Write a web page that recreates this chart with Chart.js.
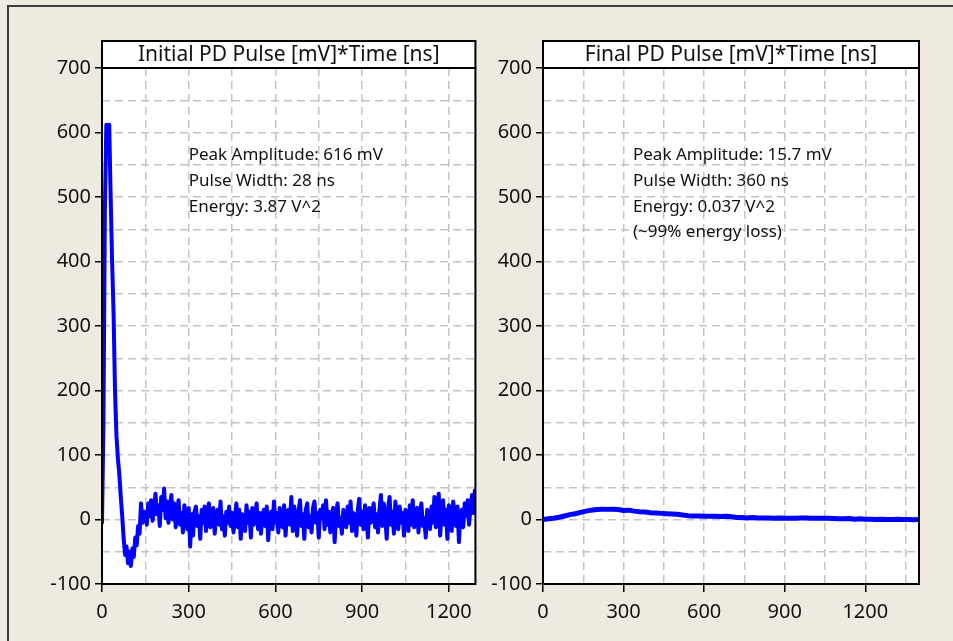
<!DOCTYPE html>
<html>
<head>
<meta charset="utf-8">
<script src="https://cdn.jsdelivr.net/npm/chart.js@4.4.1/dist/chart.umd.min.js"></script>
<style>
  html, body { margin: 0; padding: 0; background: #eeeae0; overflow: hidden; width: 953px; height: 641px; }
  #frame { position: absolute; left: 7px; top: 5px; right: 0; bottom: 0;
           border-top: 2px solid #3c3c3c; border-left: 2px solid #3c3c3c; }
  canvas { position: absolute; top: 0; }
  #initialChart { left: 0; }
  #finalChart { left: 480px; }
</style>
</head>
<body>
<div id="frame"></div>
<canvas id="initialChart" width="480" height="641"></canvas>
<canvas id="finalChart" width="473" height="641"></canvas>
<script>
// initial pulse, mV, sampled every 5 ns from t = 0
const initialStepNs = 5;
const initialPulseMv = [
  -5, 150, 480, 612, 608, 612, 500, 400, 320, 200, 130, 95, 70, 35, 5, -30, -55, -42, -68, -50,
  -72, -45, -58, -28, -40, -10, -22, 25, -5, 12,
  12, -8, 25, 5, 30, -2, 18, 40, 8, 22, -10, 35, 15, 48, 2, 28, -5, 20, 38, 0,
  25, -12, 15, 30, -8, 10, -20, 22, 5, -15, 18, -42, 8, -25, 12, 20, -10, 5, -30, 15,
  -5, 20, -18, 10, 25, -12, 2, 18, -22, 8, 15, -8, 28, -15, 5, -25, 12, -5, 20, -10,
  10, -20, 5, 25, -12, 15, -30, 8, 2, -18, 22, -5, 12, -28, 18, -8, 5, 25, -15, 10,
  -22, 8, 15, -10, 20, -32, 5, 12, -15, 28, -5, 10, -20, 18, 2, -12, 22, -25, 8, 15,
  -8, 35, -18, 20, 5, -25, 12, 30, -10, 8, -30, 15, 25, -12, 5, -20, 18, 28, -5, 10,
  -28, 15, 2, 22, -15, 30, -8, 12, -20, 5, 18, -35, 10, 25, -10, 2, -22, 15, 8, -12,
  20, -5, 28, -18, 10, 2, -25, 15, 32, -8, 12, -15, 22, 5, -28, 18, -5, 10, 25, -12,
  8, -20, 15, 38, -10, 25, 5, -30, 18, 35, -8, 12, -22, 28, 2, -15, 20, -5, 10, -25,
  15, 5, -18, 22, -8, 30, -12, 8, 18, -20, 12, 25, -10, 2, -28, 15, 8, -15, 20, -5,
  35, -12, 18, 40, -25, 10, 30, -8, 15, -30, 22, 5, -18, 28, 12, -10, 20, -35, 8, 15,
  -12, 25, 5, 30, -8, 18, 38, 10, 45
];

// final pulse, mV, sampled every 20 ns from t = 0
const finalStepNs = 20;
const finalPulseMv = [
  0, 1, 2, 3.5, 5.5, 7.5, 9, 11, 13, 14.5, 15.5, 16, 15.7, 16, 15.5, 14, 14.5, 13, 12, 11.5,
  10.5, 10, 9.5, 9, 8.5, 8, 7, 6, 5.5, 5.5, 5, 5, 5, 4.5, 5, 4.5, 3, 3, 2.5, 3,
  2.5, 2.5, 2.5, 2, 2.5, 2, 2, 2, 2.5, 2.5, 2, 2, 2, 2, 1.5, 1, 1, 1.5, 0.5, 1,
  0.5, 0.5, 0, 0.5, 0, 0, 0.5, 0, 0, -0.5, 0
];

const titles = ['Initial PD Pulse [mV]*Time [ns]', 'Final PD Pulse [mV]*Time [ns]'];
const initialNotes = ['Peak Amplitude: 616 mV', 'Pulse Width: 28 ns', 'Energy: 3.87 V^2'];
const finalNotes = ['Peak Amplitude: 15.7 mV', 'Pulse Width: 360 ns', 'Energy: 0.037 V^2', '(~99% energy loss)'];

const yGridMv = [-100, -50, 0, 50, 100, 150, 200, 250, 300, 350, 400, 450, 500, 550, 600, 650, 700];
const initialGridNs = [0, 150, 300, 450, 600, 750, 900, 1050, 1200];
const finalGridNs = [0, 150, 300, 450, 600, 750, 900, 1050, 1200, 1350];

const FONT = 'Noto Sans';

const panelPlugin = {
  id: 'panel',
  beforeDraw(chart) {
    const { ctx, chartArea: a } = chart;
    ctx.save();
    ctx.fillStyle = '#fff';
    ctx.fillRect(a.left, a.top, a.right - a.left, a.bottom - a.top);
    ctx.restore();
  },
  afterDraw(chart, args, opts) {
    const { ctx, chartArea: a, scales } = chart;
    const w = a.right - a.left;
    ctx.save();
    // title box
    ctx.fillStyle = '#fff';
    ctx.fillRect(a.left, a.top - 27, w, 27);
    ctx.strokeStyle = '#000';
    ctx.lineWidth = 2;
    ctx.strokeRect(a.left, a.top - 27, w, 27);
    ctx.strokeRect(a.left, a.top, w, a.bottom - a.top);
    ctx.fillStyle = '#111';
    ctx.font = '21px "' + FONT + '"';
    ctx.textAlign = 'center';
    ctx.textBaseline = 'middle';
    ctx.fillText(opts.title, a.left + w / 2, a.top - 13);
    // notes
    ctx.font = '17px "' + FONT + '"';
    ctx.textAlign = 'left';
    const x = scales.x.getPixelForValue(opts.noteX);
    opts.notes.forEach((t, i) => {
      ctx.fillText(t, x, scales.y.getPixelForValue(opts.noteY - i * 40));
    });
    ctx.restore();
  }
};

function makeChart(id, values, step, xMax, gridNs, title, notes, noteX, padRight) {
  const pts = values.map((v, i) => ({ x: i * step, y: v }));
  return new Chart(document.getElementById(id), {
    type: 'line',
    data: { datasets: [{ data: pts, borderColor: '#0000ff', borderWidth: id === 'finalChart' ? 5 : 4,
                         borderJoinStyle: 'round', borderCapStyle: 'round',
                         pointRadius: 0, tension: 0, fill: false }] },
    options: {
      responsive: false,
      animation: false,
      layout: { padding: { top: 68, right: padRight, left: 0, bottom: 0 } },
      plugins: {
        legend: { display: false },
        tooltip: { enabled: false },
        panel: { title, notes, noteX, noteY: 565 }
      },
      scales: {
        x: {
          type: 'linear', min: 0, max: xMax,
          afterFit: s => { s.height = 57; },
          afterBuildTicks: s => { s.ticks = gridNs.map(v => ({ value: v })); },
          ticks: { callback: v => v % 300 === 0 ? v : '', autoSkip: false, maxRotation: 0,
                   color: '#111', font: { family: FONT, size: 20 }, padding: 8 },
          grid: { color: '#c4c4c4', lineWidth: 1.5, tickLength: 8, tickWidth: 1.5,
                  tickColor: c => c.tick && c.tick.value % 300 === 0 ? '#000' : 'rgba(0,0,0,0)' },
          border: { display: false, dash: [8, 5] }
        },
        y: {
          min: -100, max: 700,
          afterFit: s => { s.width = id === 'finalChart' ? 63 : 102; },
          afterBuildTicks: s => { s.ticks = yGridMv.map(v => ({ value: v })); },
          ticks: { callback: v => v % 100 === 0 ? v : '', autoSkip: false,
                   color: '#111', font: { family: FONT, size: 20 }, padding: 4 },
          grid: { color: '#c4c4c4', lineWidth: 1.5, tickLength: 7, tickWidth: 1.5,
                  tickColor: c => c.tick && c.tick.value % 100 === 0 ? '#000' : 'rgba(0,0,0,0)' },
          border: { display: false, dash: [8, 5] }
        }
      }
    },
    plugins: [panelPlugin]
  });
}

makeChart('initialChart', initialPulseMv, initialStepNs, 1292, initialGridNs, titles[0], initialNotes, 300, 4);
makeChart('finalChart', finalPulseMv, finalStepNs, 1400, finalGridNs, titles[1], finalNotes, 335, 34);
</script>
</body>
</html>
